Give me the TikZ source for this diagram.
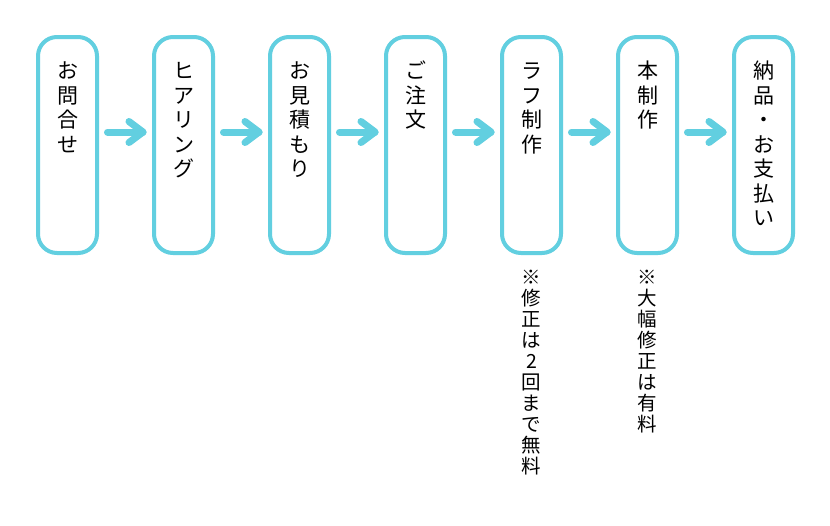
\documentclass[tikz,border=0pt]{standalone}
\usepackage{fontspec}
\setmainfont{Noto Sans CJK JP}
\usetikzlibrary{calc}
\definecolor{cy}{HTML}{62CFE0}
\begin{document}
\begin{tikzpicture}[x=1pt,y=-1pt,
  box/.style={draw=cy, line width=4pt, rounded corners=19pt, minimum width=59pt, minimum height=216pt, outer sep=0pt, inner sep=0pt},
  ch/.style={font=\fontsize{21}{21}\selectfont, text height=0.88em, text depth=0.12em, inner sep=0pt, anchor=center},
  nt/.style={font=\fontsize{19.5}{19.5}\selectfont, text height=0.88em, text depth=0.12em, inner sep=0pt, anchor=center},
  arr/.style={draw=cy, line width=7pt, line cap=round, line join=round}]
\useasboundingbox[fill=white] (0,0) rectangle (830,525);
\foreach \i in {1,...,7} \node[box] (b\i) at ({67.5+116*(\i-1)},145) {};
% box texts
\foreach \c [count=\j] in {お,問,合,せ}
  \node[ch] (ta\j) at ($(b1.north)+(0,{38+24.5*(\j-1)})$) {\c};
\foreach \c [count=\j] in {ヒ,ア,リ,ン,グ}
  \node[ch] (tb\j) at ($(b2.north)+(0,{38+24.5*(\j-1)})$) {\c};
\foreach \c [count=\j] in {お,見,積,も,り}
  \node[ch] (tc\j) at ($(b3.north)+(0,{38+24.5*(\j-1)})$) {\c};
\foreach \c [count=\j] in {ご,注,文}
  \node[ch] (td\j) at ($(b4.north)+(0,{38+24.5*(\j-1)})$) {\c};
\foreach \c [count=\j] in {ラ,フ,制,作}
  \node[ch] (te\j) at ($(b5.north)+(0,{38+24.5*(\j-1)})$) {\c};
\foreach \c [count=\j] in {本,制,作}
  \node[ch] (tf\j) at ($(b6.north)+(0,{38+24.5*(\j-1)})$) {\c};
\foreach \c [count=\j] in {納,品,・,お,支,払,い}
  \node[ch] (tg\j) at ($(b7.north)+(0,{38+24.5*(\j-1)})$) {\c};
% notes
\foreach \c [count=\j] in {※,修,正,は,2,回,ま,で,無,料}
  \node[nt] (na\j) at ($(b5.south)+(0,{27.5+21*(\j-1)})$) {\c};
\foreach \c [count=\j] in {※,大,幅,修,正,は,有,料}
  \node[nt] (nb\j) at ($(b6.south)+(0,{27.5+21*(\j-1)})$) {\c};
% arrows
\foreach \i in {1,...,6}{
  \pgfmathtruncatemacro\n{\i+1}
  \coordinate (s\i) at ($(b\i.east)+(10.5,-13)$);
  \coordinate (e\i) at ($(b\n.west)+(-11,-13)$);
  \draw[arr] (s\i) -- (e\i);
  \draw[arr] ($(e\i)+(-14,-10.5)$) -- (e\i) -- ($(e\i)+(-14,10.5)$);
}
\end{tikzpicture}
\end{document}
